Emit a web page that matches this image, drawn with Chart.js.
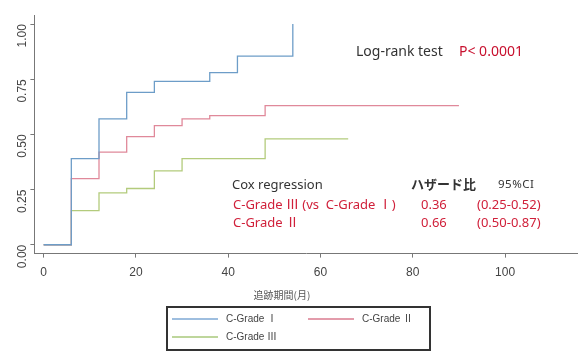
<!DOCTYPE html>
<html>
<head>
<meta charset="utf-8">
<script src="https://cdn.jsdelivr.net/npm/chart.js@4"></script>
<style>
  html, body { margin: 0; padding: 0; background: #fff; }
  #wrap { width: 578px; height: 352px; }
</style>
</head>
<body>
<div id="wrap"><canvas id="kmChart"></canvas></div>
<script>
// follow-up months and cumulative incidence per grade
const gradeITimes = [0, 6, 12, 18, 24, 36, 42, 54];
const gradeIValues = [0, 0.39, 0.57, 0.69, 0.74, 0.78, 0.855, 1.0];
const gradeIITimes = [0, 6, 12, 18, 24, 30, 36, 48, 90];
const gradeIIValues = [0, 0.30, 0.42, 0.49, 0.54, 0.57, 0.585, 0.63, 0.63];
const gradeIIITimes = [0, 6, 12, 18, 24, 30, 48, 66];
const gradeIIIValues = [0, 0.155, 0.235, 0.255, 0.335, 0.39, 0.48, 0.48];

const seriesLabels = ['C-Grade Ⅰ', 'C-Grade Ⅱ', 'C-Grade Ⅲ'];
const xTicks = [0, 20, 40, 60, 80, 100];
const yTicks = [0, 0.25, 0.5, 0.75, 1];

const coxRows = ['C-Grade Ⅲ (vs  C-Grade Ⅰ)', 'C-Grade Ⅱ'];
const hazardRatios = ['0.36', '0.66'];
const ciLabels = ['(0.25-0.52)', '(0.50-0.87)'];

const curveColors = ['#6d9dc8', '#e0899a', '#b3cb7c'];
const keyColors = ['#3f7fbf', '#c83a58', '#7fae3a'];

function toPoints(times, values) {
    return times.map((t, i) => ({ x: t, y: values[i] }));
}

const jpFont = '"Noto Sans", "Noto Sans CJK JP", sans-serif';

const notesPlugin = {
    id: 'notes',
    afterDraw(chart) {
        const c = chart.ctx;
        c.save();
        c.textBaseline = 'middle';

        // x axis title
        c.font = '10px "Noto Sans CJK JP", sans-serif';
        c.fillStyle = '#555';
        c.textAlign = 'center';
        c.fillText('追跡期間(月)', 282, 295);
        c.textAlign = 'left';

        // log-rank
        c.font = '14px ' + jpFont;
        c.fillStyle = '#333';
        c.fillText('Log-rank test', 356, 52);
        c.fillStyle = '#c8102e';
        c.fillText('P< 0.0001', 459, 52);

        // cox table
        c.font = '13px ' + jpFont;
        c.fillStyle = '#333';
        c.fillText('Cox regression', 232, 185);
        c.font = 'bold 13px ' + jpFont;
        c.fillText('ハザード比', 411, 185);
        c.font = '11.5px ' + jpFont;
        c.letterSpacing = '0.5px';
        c.fillText('95%CI', 498, 185);
        c.letterSpacing = '0px';
        c.font = '13px ' + jpFont;
        c.fillStyle = '#d0203a';
        coxRows.forEach((txt, i) => {
            const y = 205 + i * 18;
            c.fillText(txt, 233, y);
            c.fillText(hazardRatios[i], 421, y);
            c.fillText(ciLabels[i], 477, y);
        });

        // legend box
        c.strokeStyle = '#333';
        c.lineWidth = 2;
        c.strokeRect(167, 307, 263, 43);
        c.font = '10px "Liberation Sans", "Noto Sans CJK JP", sans-serif';
        const spots = [[172, 319], [308, 319], [172, 337]];
        chart.data.datasets.forEach((ds, i) => {
            const [x, y] = spots[i];
            c.strokeStyle = keyColors[i];
            c.lineWidth = 1.2;
            c.beginPath();
            c.moveTo(x, y);
            c.lineTo(x + 46, y);
            c.stroke();
            c.fillStyle = '#444';
            c.fillText(ds.label, x + 54, y);
        });
        c.restore();
    }
};

new Chart(document.getElementById('kmChart'), {
    type: 'line',
    data: {
        datasets: [
            { label: seriesLabels[0], data: toPoints(gradeITimes, gradeIValues), borderColor: curveColors[0] },
            { label: seriesLabels[1], data: toPoints(gradeIITimes, gradeIIValues), borderColor: curveColors[1] },
            { label: seriesLabels[2], data: toPoints(gradeIIITimes, gradeIIIValues), borderColor: curveColors[2] }
        ].map(d => Object.assign(d, { stepped: 'before', borderWidth: 1.3, pointRadius: 0, fill: false }))
    },
    options: {
        responsive: true,
        maintainAspectRatio: false,
        animation: false,
        layout: { padding: { top: 10, left: 0, right: 0, bottom: 64 } },
        plugins: { legend: { display: false }, tooltip: { enabled: false } },
        scales: {
            x: {
                type: 'linear',
                min: -2,
                max: 115.8,
                afterBuildTicks: s => { s.ticks = xTicks.map(v => ({ value: v })); },
                ticks: { color: '#444', font: { size: 12, family: 'Liberation Sans' }, padding: 8 },
                grid: { drawOnChartArea: false, tickLength: 4, color: '#777' },
                border: { color: '#777' }
            },
            y: {
                type: 'linear',
                min: -0.04,
                max: 1.04,
                afterBuildTicks: s => { s.ticks = yTicks.map(v => ({ value: v })); },
                ticks: { minRotation: 90, maxRotation: 90, color: '#444', font: { size: 12, family: 'Liberation Sans' }, padding: 8, callback: v => v.toFixed(2) },
                grid: { drawOnChartArea: false, tickLength: 4, color: '#777' },
                border: { color: '#777' }
            }
        }
    },
    plugins: [notesPlugin]
});
</script>
</body>
</html>
